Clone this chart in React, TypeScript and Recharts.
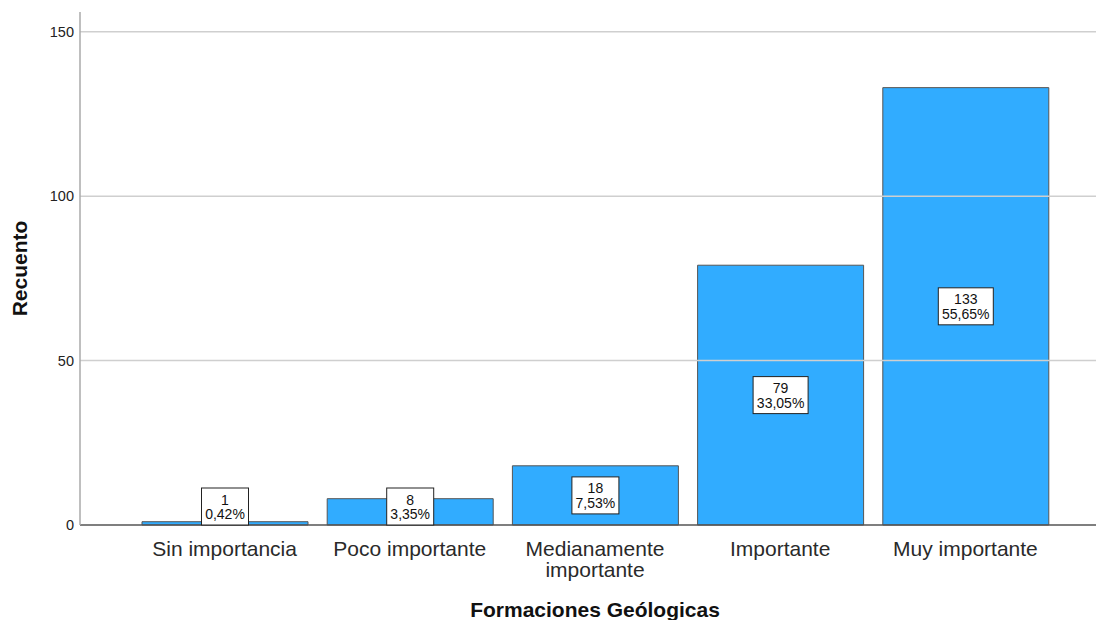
import { BarChart, Bar, XAxis, YAxis, ReferenceLine, LabelList } from 'recharts';

const categories = ['Sin importancia', 'Poco importante', 'Medianamente importante', 'Importante', 'Muy importante'];
const counts = [1, 8, 18, 79, 133];
const percents = ['0,42%', '3,35%', '7,53%', '33,05%', '55,65%'];
const yTicks = [0, 50, 100, 150];
const gridValues = [50, 100, 150];

const tickLines: Record<string, string[]> = {
  'Medianamente importante': ['Medianamente', 'importante'],
};

const data = categories.map((name, i) => ({ name, count: counts[i], pct: percents[i] }));

const CategoryTick = (props: any) => {
  const { x, payload } = props;
  const lines = tickLines[payload.value] || [payload.value];
  return (
    <g>
      {lines.map((line, i) => (
        <text key={i} x={x} y={556 + i * 21} textAnchor="middle" fontSize={21} fill="#2a2a2a">
          {line}
        </text>
      ))}
    </g>
  );
};

const BoxLabel = (props: any) => {
  const { x, y, width, height, index } = props;
  const value = counts[index];
  const pct = percents[index];
  const boxW = Math.max(String(value).length, pct.length) * 8 + 7;
  const boxH = 37;
  const cx = x + width / 2;
  const cy = Math.min(y + height / 2, y + height - boxH / 2);
  return (
    <g>
      <rect x={cx - boxW / 2} y={cy - boxH / 2} width={boxW} height={boxH} fill="#fff" stroke="#222" strokeWidth={1} />
      <text x={cx} y={cy - 2} textAnchor="middle" fontSize={14} fill="#111">{value}</text>
      <text x={cx} y={cy + 12.5} textAnchor="middle" fontSize={14} fill="#111">{pct}</text>
    </g>
  );
};

const YTitle = (props: any) => {
  const { viewBox } = props;
  const cy = viewBox.y + viewBox.height / 2;
  return (
    <text x={27} y={cy} transform={`rotate(-90, 27, ${cy})`} textAnchor="middle" fontSize={21} fontWeight="bold" fill="#111">
      Recuento
    </text>
  );
};

const XTitle = (props: any) => {
  const { viewBox } = props;
  const cx = viewBox.x + 52 + (viewBox.width - 52 - 38) / 2;
  return (
    <text x={cx} y={617} textAnchor="middle" fontSize={21} fontWeight="bold" fill="#111">
      Formaciones Geólogicas
    </text>
  );
};

export default function App() {
  return (
    <div style={{ position: 'absolute', left: 0, top: 0, background: '#fff', fontFamily: 'Liberation Sans, Arial, sans-serif' }}>
      <BarChart width={1096} height={620} data={data} margin={{ top: 12, right: 0, left: 0, bottom: 0 }} barCategoryGap={0}>
        {gridValues.map((v) => (
          <ReferenceLine key={v} y={v} stroke="#cfcfcf" strokeWidth={1.5} />
        ))}
        <XAxis
          dataKey="name"
          height={95}
          padding={{ left: 52, right: 38 }}
          tickLine={false}
          axisLine={{ stroke: '#555', strokeWidth: 1.5 }}
          tick={<CategoryTick />}
          interval={0}
          label={<XTitle />}
        />
        <YAxis
          width={80}
          domain={[0, 156]}
          ticks={yTicks}
          tickLine={false}
          axisLine={{ stroke: '#aaa', strokeWidth: 1.5 }}
          tick={{ fontSize: 14.5, fill: '#222' }}
          tickMargin={0}
          label={<YTitle />}
        />
        <Bar dataKey="count" fill="#31acff" stroke="#555" strokeWidth={1} barSize={166} isAnimationActive={false}>
          <LabelList dataKey="count" content={<BoxLabel />} />
        </Bar>
      </BarChart>
    </div>
  );
}
